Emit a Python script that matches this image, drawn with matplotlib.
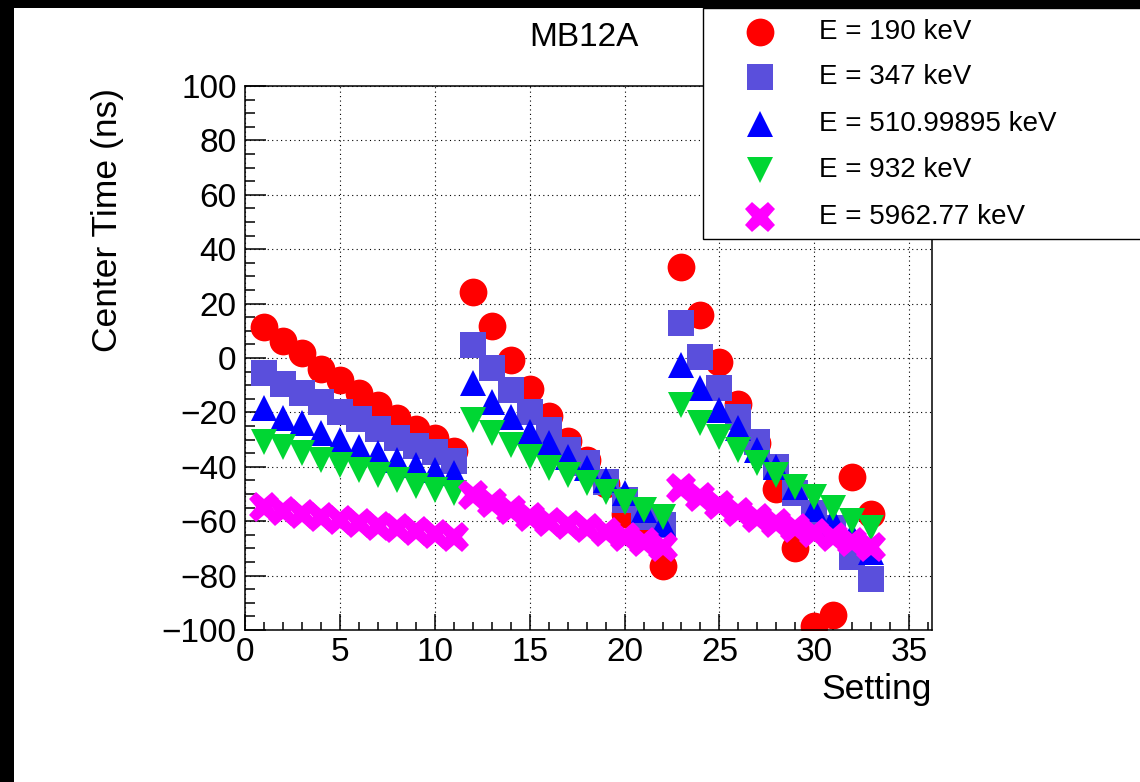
import numpy as np
import matplotlib
matplotlib.use("Agg")
import matplotlib.pyplot as plt
from matplotlib.patches import Rectangle
from matplotlib.lines import Line2D
from matplotlib.ticker import MultipleLocator

plt.rcParams['font.family'] = ['Liberation Sans', 'DejaVu Sans']

# data
setting = np.arange(1, 34)

t_190 = [11.4, 6.2, 1.8, -4.0, -8.1, -12.9, -17.3, -22.0, -26.0, -29.4, -34.2,
         24.3, 11.6, -0.7, -11.4, -21.5, -30.5, -37.5, -46.5, -57.5, -65.0, -76.3,
         33.5, 15.8, -1.5, -17.0, -31.3, -48.0, -69.8, -98.5, -94.5, -43.8, -57.5]
t_347 = [-5.5, -9.4, -13.0, -16.2, -19.7, -22.6, -26.0, -29.4, -32.2, -34.6, -37.7,
         4.8, -3.7, -11.8, -19.9, -26.5, -33.8, -38.6, -45.6, -52.2, -58.5, -61.4,
         12.9, 0.4, -11.0, -21.7, -30.9, -40.0, -49.6, -57.0, -62.5, -73.0, -81.3]
t_511 = [-18.4, -22.0, -24.0, -27.6, -30.1, -32.7, -35.0, -37.5, -39.3, -41.2, -42.3,
         -9.2, -16.2, -21.7, -27.2, -31.3, -36.4, -40.4, -44.9, -49.6, -55.9, -61.0,
         -2.6, -11.0, -19.1, -25.7, -33.8, -40.0, -47.4, -55.5, -59.6, -65.0, -71.5]
t_932 = [-30.9, -32.7, -35.0, -37.5, -39.3, -41.2, -43.0, -44.9, -47.0, -48.5, -49.6,
         -22.8, -27.6, -32.0, -36.4, -40.4, -43.0, -46.0, -49.3, -52.9, -55.9, -58.5,
         -17.3, -23.9, -29.0, -33.8, -38.6, -43.0, -47.4, -51.0, -55.0, -60.0, -62.5]
t_5963 = [-54.8, -56.3, -57.4, -58.6, -59.7, -60.6, -61.6, -62.6, -63.5, -64.6, -65.8,
          -50.4, -53.3, -55.9, -58.3, -60.2, -61.4, -62.6, -64.0, -65.8, -67.6, -69.5,
          -47.8, -51.1, -54.0, -56.8, -58.8, -60.7, -62.5, -64.3, -65.8, -67.6, -69.5]

labels = ["E = 190 keV", "E = 347 keV", "E = 510.99895 keV",
          "E = 932 keV", "E = 5962.77 keV"]
series = [t_190, t_347, t_511, t_932, t_5963]
markers = ['o', 's', '^', 'v', 'X']
colors = ['#ff0000', '#5a4fdc', '#0000ff', '#00d633', '#ff00ff']
sizes = [20, 19, 19, 19, 22]

W, H = 1140, 782
fig = plt.figure(figsize=(W / 100, H / 100), dpi=100, facecolor='black')
# white canvas inside the black border
fig.add_artist(Rectangle((14 / W, 0), 1, 1 - 8 / H, transform=fig.transFigure,
                         facecolor='white', edgecolor='none', zorder=-10))

ax = fig.add_axes([245 / W, 1 - 630 / H, 687 / W, 544 / H])
for y, m, c, s in zip(series, markers, colors, sizes):
    ax.plot(setting, y, linestyle='none', marker=m, color=c, ms=s, mew=0)

ax.set_xlim(0, 36.2)
ax.set_ylim(-100, 100)
ax.xaxis.set_major_locator(MultipleLocator(5))
ax.xaxis.set_minor_locator(MultipleLocator(1))
ax.yaxis.set_major_locator(MultipleLocator(20))
ax.yaxis.set_minor_locator(MultipleLocator(5))
ax.tick_params(axis='both', which='both', direction='in', labelsize=24,
               top=False, right=False, width=1.1)
ax.tick_params(axis='y', which='major', length=15, pad=6)
ax.tick_params(axis='y', which='minor', length=7.5)
ax.tick_params(axis='x', which='major', length=11.5, pad=5)
ax.tick_params(axis='x', which='minor', length=5.8)
ax.grid(True, which='major', color='black', linestyle=(0, (1, 3)), linewidth=0.8)
for sp in ax.spines.values():
    sp.set_linewidth(1.1)

fig.text(584 / W, 1 - 38 / H, "MB12A", fontsize=24, ha='center', va='center')
fig.text(107 / W, 1 - 88 / H, "Center Time (ns)", fontsize=25.5, rotation=90,
         ha='center', va='top')
fig.text(932 / W, 1 - 690 / H, "Setting", fontsize=25.5, ha='right', va='center')

# legend box
fig.add_artist(Rectangle((703 / W, 1 - 239 / H), 0.5, 231 / H, transform=fig.transFigure,
                         facecolor='white', edgecolor='black', linewidth=1.0, zorder=5))
rows = [32, 77, 124, 170, 217]
for yr, lab, m, c, s in zip(rows, labels, markers, colors, sizes):
    fig.add_artist(Line2D([760 / W], [1 - yr / H], transform=fig.transFigure,
                          linestyle='none', marker=m, color=c, ms=s, mew=0, zorder=6))
    fig.text(819 / W, 1 - yr / H, lab, fontsize=20, ha='left', va='center', zorder=6)

fig.savefig("out.png", dpi=100, facecolor=fig.get_facecolor())
